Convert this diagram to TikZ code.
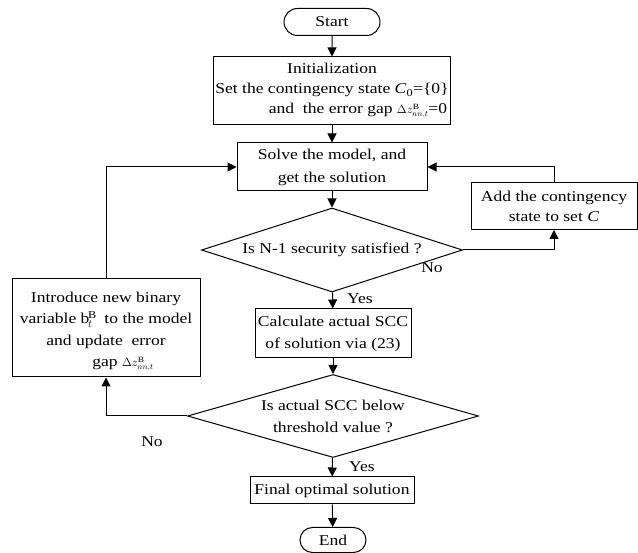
\documentclass[tikz,border=0pt]{standalone}
\usepackage{fontspec}
\setmainfont{Liberation Serif}[FakeStretch=1.17]
\usetikzlibrary{shapes,arrows.meta,positioning}
\newcommand{\gapsize}{\fontsize{12}{12}\selectfont}

\begin{document}
\begin{tikzpicture}[x=1pt,y=-1pt,font=\fontsize{15}{20}\selectfont,
    box/.style={draw,line width=1pt,inner sep=2pt,align=center},
    term/.style={draw,line width=1pt,rounded rectangle,inner sep=2pt},
    decision/.style={draw,diamond,line width=1pt,inner sep=0pt,align=center},
    flow/.style={line width=1pt,-{Triangle[length=9pt,width=9pt]}},
    lbl/.style={inner sep=0pt}]
\useasboundingbox (0,0) rectangle (638,553);

% main column
\node[term,minimum width=100pt,minimum height=27pt] (start) at (332,22) {Start};
\node[box,minimum width=236pt,minimum height=68pt] (init) at (332,91)
    {Initialization\\Set the contingency state \textit{C}\textsubscript{0}=\{0\}\\
     \hspace*{52pt}and~ the error gap {\gapsize$\Delta z^{\mathrm{B}}_{nn,t}$}=0};
\node[box,minimum width=190pt,minimum height=48pt] (solve) at (332,167)
    {Solve the model, and\\[3pt]get the solution};
\node[decision,aspect=3.1,minimum width=261pt,minimum height=84pt] (d1) at (332,250)
    {Is N-1 security satisfied ?};
\node[box,minimum width=156pt,minimum height=49pt] (calc) at (333,333.5)
    {Calculate actual SCC\\[2pt]of solution via (23)};
\node[decision,aspect=3.5,minimum width=291pt,minimum height=83pt] (d2) at (333,416)
    {Is actual SCC below\\[2pt]threshold value ?};
\node[box,minimum width=164pt,minimum height=27pt] (final) at (332,490.5)
    {Final optimal solution};
\node[term,minimum width=70pt,minimum height=25pt] (end) at (333,540) {End};

% side boxes
\node[box,minimum width=166pt,minimum height=47pt] (add) at (554,206)
    {Add the contingency\\state to set \textit{C}};
\node[box,minimum width=188pt,minimum height=98pt,font=\fontsize{15}{21.5}\selectfont] (intro) at (106,328)
    {\rule{0pt}{18pt}Introduce new binary\\variable $\mathrm{b}^{\mathrm{B}}_{t}$~ to the model\\
     and update~ error\\\hspace*{34pt}gap {\gapsize$\Delta z^{\mathrm{B}}_{nn,t}$}};

% labels
\node[lbl] (yes1) at (360,299) {Yes};
\node[lbl] (no1) at (432,268) {No};
\node[lbl] (yes2) at (362,467) {Yes};
\node[lbl] (no2) at (152,442) {No};

% connectors
\draw[flow] (start) -- (init);
\draw[flow] (init) -- (solve);
\draw[flow] (solve) -- (d1);
\draw[flow] (d1) -- (calc);
\draw[flow] (calc) -- (d2);
\draw[flow] (d2) -- (final);
\draw[flow] (final) -- (end);
\draw[flow] (d1.east) -| (add.south);
\draw[flow] (add.north) |- (solve.east);
\draw[flow] (d2.west) -| (intro.south);
\draw[flow] (intro.north) |- (solve.west);
\end{tikzpicture}
\end{document}
